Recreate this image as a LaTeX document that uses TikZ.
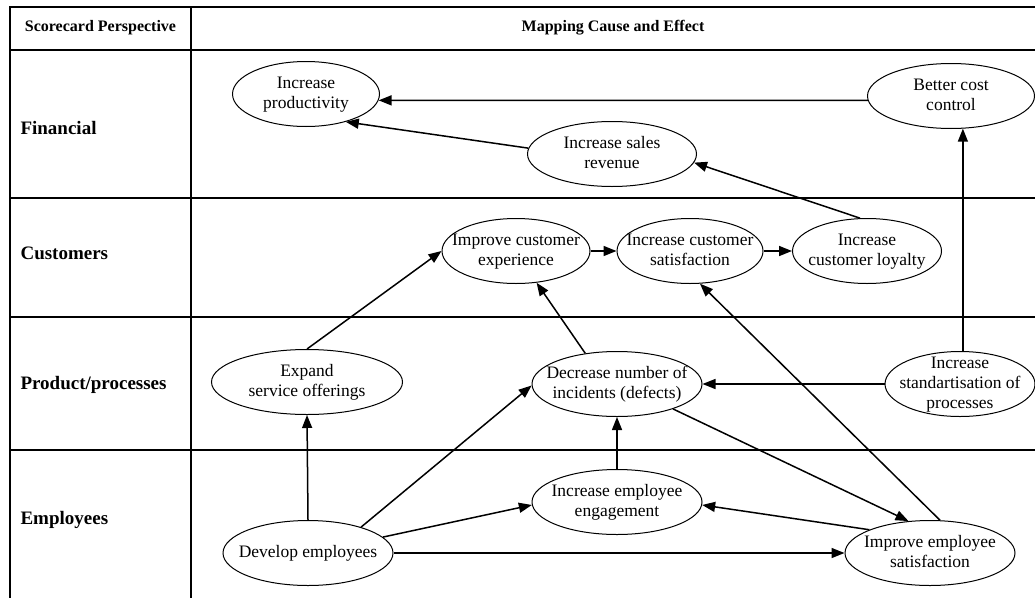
\documentclass[tikz,border=0pt]{standalone}
\usepackage{fontspec}
\setmainfont{Liberation Serif}
\usetikzlibrary{shapes.geometric, arrows.meta}

% text of a goal, taking no room, so the ellipse keeps its own size
\newcommand{\goaltext}[1]{\makebox[0pt]{\raisebox{\dimexpr(\depth-\height)/2\relax}[0pt][0pt]{\begin{tabular}{@{}c@{}}#1\end{tabular}}}}

\begin{document}
\begin{tikzpicture}[x=1pt, y=-1pt,
    goal/.style={draw, ellipse, line width=1pt, inner sep=0pt, minimum height=65pt, font=\fontsize{17.5}{20}\selectfont},
    link/.style={-{Triangle[length=13pt, width=10pt]}, line width=1.5pt},
    rule/.style={line width=1.6pt},
    head/.style={font=\fontsize{16}{19}\selectfont\bfseries},
    perspective/.style={anchor=west, font=\fontsize{19}{22}\selectfont\bfseries}]
    \useasboundingbox (0,0) rectangle (1035,597);

    % table
    \draw[rule] (10,605) -- (10,7) -- (1045,7);
    \draw[rule] (191,7) -- (191,605);
    \foreach \y in {50,198,317,450}
        \draw[rule] (10,\y) -- (1045,\y);

    \node[head] (hd_persp) at (100.5,28) {Scorecard Perspective};
    \node[head] (hd_map) at (613,28) {Mapping Cause and Effect};

    \node[perspective] (financial) at (17,128) {Financial};
    \node[perspective] (customers) at (17,253) {Customers};
    \node[perspective] (processes) at (17,385) {Product/processes};
    \node[perspective] (employees) at (17,520) {Employees};

    % goals
    \node[goal, minimum width=147pt] (productivity) at (306,94) {\goaltext{Increase\\productivity}};
    \node[goal, minimum width=167pt] (cost_control) at (951,96) {\goaltext{Better cost\\control}};
    \node[goal, minimum width=169pt] (sales_revenue) at (612,154) {\goaltext{Increase sales\\revenue}};
    \node[goal, minimum width=148pt] (cust_experience) at (516,251) {\goaltext{Improve customer\\experience}};
    \node[goal, minimum width=146pt] (cust_satisfaction) at (690,251) {\goaltext{Increase customer\\satisfaction}};
    \node[goal, minimum width=149pt] (cust_loyalty) at (867,251) {\goaltext{Increase\\customer loyalty}};
    \node[goal, minimum width=191pt] (service_offerings) at (307,382) {\goaltext{Expand\\service offerings}};
    \node[goal, minimum width=170pt] (incidents) at (617,384) {\goaltext{Decrease number of\\incidents (defects)}};
    \node[goal, minimum width=150pt] (standardisation) at (960,384) {\goaltext{Increase\\standartisation of\\processes}};
    \node[goal, minimum width=170pt] (engagement) at (617,502) {\goaltext{Increase employee\\engagement}};
    \node[goal, minimum width=170pt] (develop) at (308,553) {\goaltext{Develop employees}};
    \node[goal, minimum width=170pt] (emp_satisfaction) at (930,553) {\goaltext{Improve employee\\satisfaction}};

    % cause and effect
    \draw[link] (cost_control.183.5) -- (productivity.355);
    \draw[link] (sales_revenue.176) -- (productivity.325.7);
    \draw[link] (cust_loyalty.102) -- (sales_revenue.354.6);
    \draw[link] (standardisation.north -| cost_control.290) -- (cost_control.290);
    \draw[link] (service_offerings.north) -- (cust_experience.west);
    \draw[link] (cust_experience.east) -- (cust_satisfaction.west);
    \draw[link] (cust_satisfaction.east) -- (cust_loyalty.west);
    \draw[link] (incidents.136.7) -- (cust_experience.303.3);
    \draw[link] (emp_satisfaction.73) -- (cust_satisfaction.287);
    \draw[link] (standardisation.west) -- (incidents.east);
    \draw[link] (develop.north) -- (service_offerings.south);
    \draw[link] (develop.26.6) -- (incidents.181);
    \draw[link] (develop.12.2) -- (engagement.182);
    \draw[link] (develop.east) -- (emp_satisfaction.west);
    \draw[link] (incidents.-24.4) -- (emp_satisfaction.124);
    \draw[link] (engagement.north) -- (incidents.south);
    \draw[link] (emp_satisfaction.159.6) -- (engagement.-2);
\end{tikzpicture}
\end{document}
